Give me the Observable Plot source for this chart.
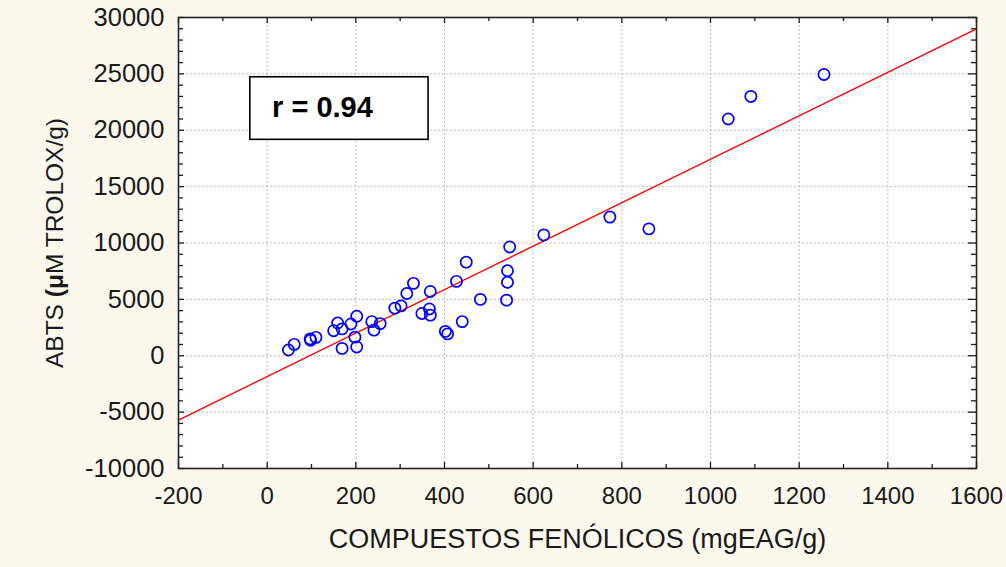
<!DOCTYPE html>
<html><head><meta charset="utf-8">
<script src="https://cdn.jsdelivr.net/npm/d3@7"></script>
<script src="https://cdn.jsdelivr.net/npm/@observablehq/plot@0.6"></script>
<style>
html,body{margin:0;padding:0;background:#fdf8ee;}
#chart svg{display:block;}
</style></head><body><div id="chart"></div>
<script>
// Data
const phenolics = [48, 61, 97, 98, 110, 159, 150, 169, 169, 189, 202, 198, 202, 236, 241, 255, 288, 302, 315, 330, 349, 366, 368, 368, 402, 407, 427, 440, 449, 481, 540, 542, 542, 547, 624, 773, 861, 1040, 1091, 1256];
const abtsValues = [510, 1010, 1500, 1380, 1630, 2900, 2220, 2380, 650, 2820, 3500, 1650, 780, 3030, 2270, 2850, 4220, 4420, 5520, 6420, 3750, 4150, 3600, 5700, 2160, 1940, 6600, 3030, 8300, 5000, 4930, 6520, 7540, 9650, 10720, 12300, 11250, 21000, 23000, 24950];
const fitX = [-200, 1600];
const fitY = [-5700, 29000];
const xTicks = [-200, 0, 200, 400, 600, 800, 1000, 1200, 1400, 1600];
const yTicks = [-10000, -5000, 0, 5000, 10000, 15000, 20000, 25000, 30000];
const xMinorTicks = [-100, 100, 300, 500, 700, 900, 1100, 1300, 1500];
const yMinorTicks = [-9000,-8000,-7000,-6000,-4000,-3000,-2000,-1000,1000,2000,3000,4000,6000,7000,8000,9000,11000,12000,13000,14000,16000,17000,18000,19000,21000,22000,23000,24000,26000,27000,28000,29000];
const xLabel = "COMPUESTOS FENÓLICOS (mgEAG/g)";
const yLabel = "ABTS (μM TROLOX/g)";
const rLabel = "r = 0.94";
const rBox = {x1: -38, x2: 364, y1: 19150, y2: 24700, tx: 11, ty: 21150};

const points = phenolics.map((x, i) => ({x, y: abtsValues[i]}));
const fit = fitX.map((x, i) => ({x, y: fitY[i]}));

const W = 1006, H = 567, mL = 178, mR = 30, mT = 17, mB = 99;
const plotH = H - mT - mB, plotW = W - mL - mR;
const ink = "#1a1a1a";
const gridStyle = {stroke: "#a9a9a9", strokeOpacity: 1, strokeDasharray: "1.5,2.5", strokeWidth: 1};

const chart = Plot.plot({
  width: W, height: H,
  marginLeft: mL, marginRight: mR, marginTop: mT, marginBottom: mB,
  style: {background: "transparent", fontFamily: "'Liberation Sans', Arial, sans-serif", color: ink},
  x: {domain: [-200, 1600]},
  y: {domain: [-10000, 30000]},
  marks: [
    Plot.frame({fill: "white", stroke: "none"}),
    Plot.gridX(xTicks.slice(1, -1), gridStyle),
    Plot.gridY(yTicks.slice(1, -1), gridStyle),
    // inward ticks
    Plot.tickX(xTicks, {x: d => d, insetTop: plotH - 6, stroke: ink, strokeWidth: 1.3}),
    Plot.tickX(xMinorTicks, {x: d => d, insetTop: plotH - 4, stroke: ink, strokeWidth: 1.3}),
    Plot.tickX(xTicks, {x: d => d, insetBottom: plotH - 6, stroke: ink, strokeWidth: 1.3}),
    Plot.tickX(xMinorTicks, {x: d => d, insetBottom: plotH - 4, stroke: ink, strokeWidth: 1.3}),
    Plot.tickY(yTicks, {y: d => d, insetRight: plotW - 6, stroke: ink, strokeWidth: 1.3}),
    Plot.tickY(yMinorTicks, {y: d => d, insetRight: plotW - 5, stroke: ink, strokeWidth: 1.3}),
    Plot.tickY(yTicks, {y: d => d, insetLeft: plotW - 8, stroke: ink, strokeWidth: 1.3}),
    Plot.tickY(yMinorTicks, {y: d => d, insetLeft: plotW - 5, stroke: ink, strokeWidth: 1.3}),
    Plot.axisX(xTicks, {tickSize: 0, tickPadding: 18, fontSize: 24, tickFormat: d => String(d), label: null, fill: ink}),
    Plot.axisY(yTicks, {tickSize: 0, tickPadding: 14, fontSize: 25.5, tickFormat: d => String(d), label: null, fill: ink}),
    Plot.line(fit, {x: "x", y: "y", stroke: "#ff0000", strokeWidth: 1.4}),
    Plot.dot(points, {x: "x", y: "y", r: 5.6, stroke: "#0000ff", strokeWidth: 1.7, fill: "none"}),
    Plot.rect([rBox], {x1: "x1", x2: "x2", y1: "y1", y2: "y2", fill: "white", stroke: "#000", strokeWidth: 1.6}),
    Plot.text([rLabel], {x: () => rBox.tx, y: () => rBox.ty, text: d => d, textAnchor: "start", lineAnchor: "bottom", fontSize: 29, fontWeight: "bold", fill: "#000"}),
    Plot.frame({stroke: "#222", strokeWidth: 1.6}),
    Plot.text([xLabel], {frameAnchor: "bottom", dy: 79, text: d => d, lineAnchor: "bottom", fontSize: 27, fill: ink}),
    Plot.text([yLabel], {frameAnchor: "left", rotate: -90, dx: -116, text: d => d, lineAnchor: "bottom", fontSize: 24.5, fill: ink})
  ]
});

// bold "(μ" in the y label
chart.querySelectorAll("text").forEach(t => {
  if (t.textContent === yLabel) {
    const i = yLabel.indexOf("(μ");
    t.textContent = "";
    t.setAttribute("text-anchor", "middle");
    const parts = [[yLabel.slice(0, i), "normal"], [yLabel.slice(i, i + 2), "bold"], [yLabel.slice(i + 2), "normal"]];
    for (const [s, w] of parts) {
      const ts = document.createElementNS("http://www.w3.org/2000/svg", "tspan");
      ts.textContent = s;
      ts.setAttribute("font-weight", w);
      t.appendChild(ts);
    }
  }
});
document.getElementById("chart").appendChild(chart);
</script>
</body></html>
